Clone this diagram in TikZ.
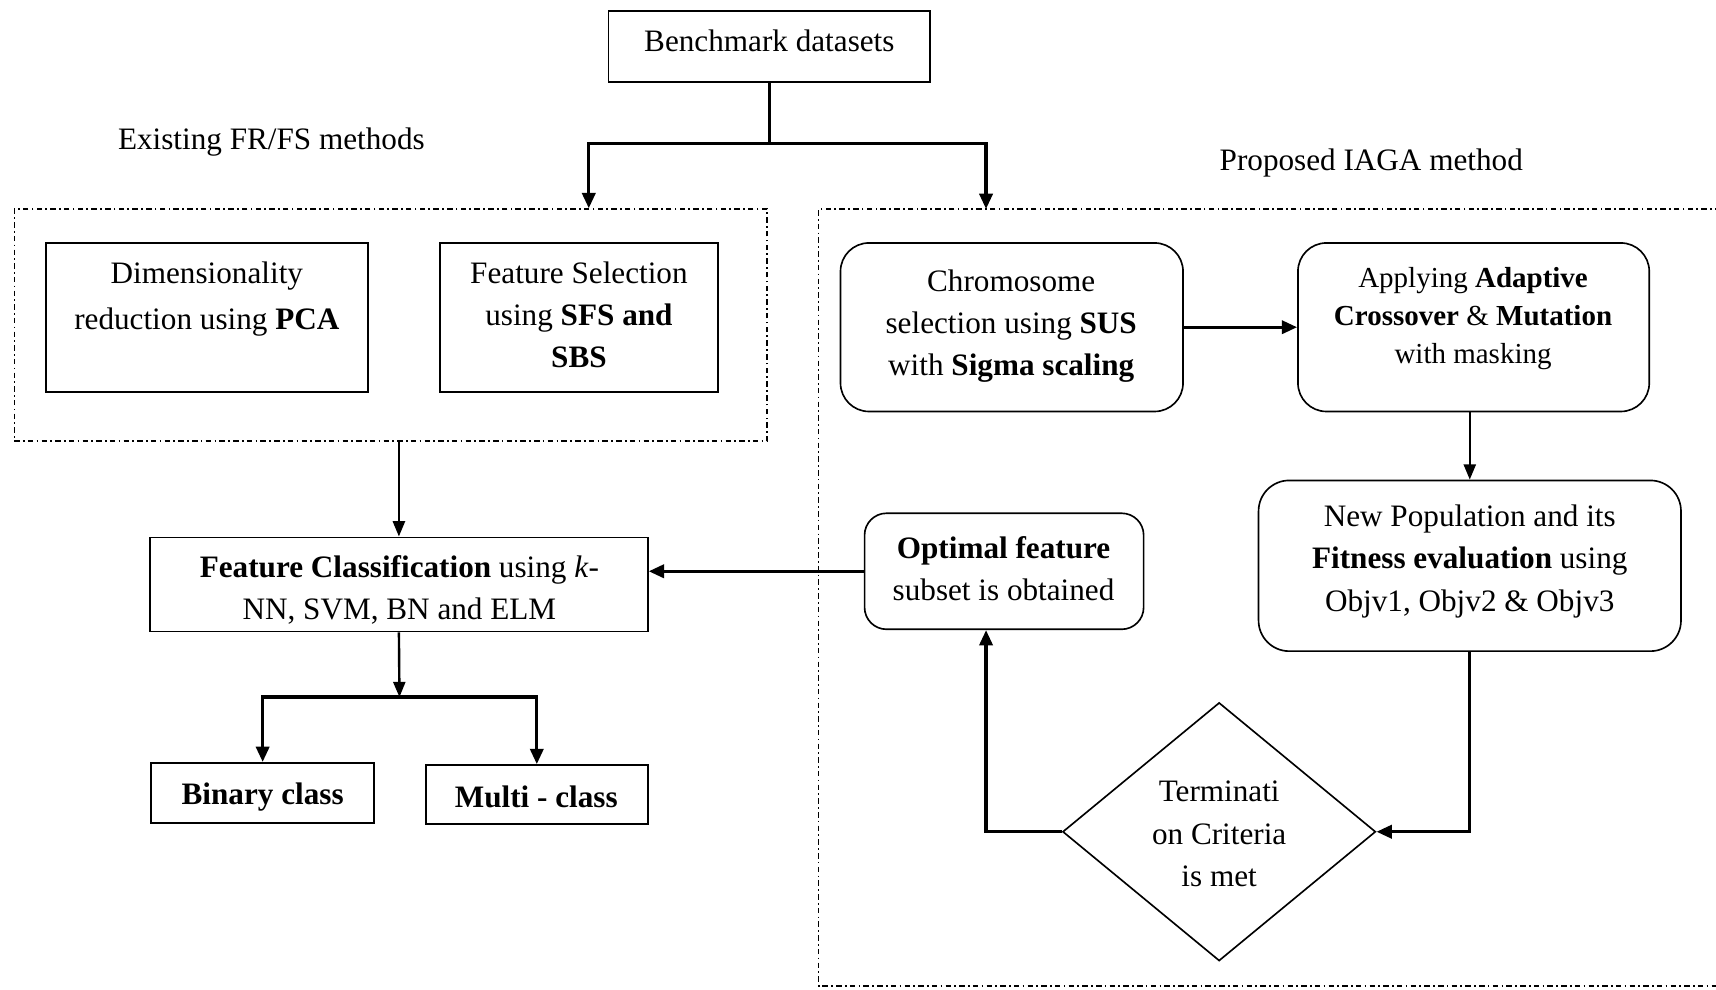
\documentclass[tikz,border=0pt]{standalone}
\usepackage{fontspec}
\setmainfont{Liberation Serif}
\usetikzlibrary{arrows.meta,shapes.geometric}
\tikzset{
  box/.style={draw, line width=1.5pt, inner sep=0pt, rectangle},
  rbox/.style={box, rounded corners=#1},
  rbox/.default=26pt,
  txt/.style={align=center, inner sep=0pt, font=\fontsize{28.5}{38.5}\selectfont},
  grp/.style={line width=1.3pt, dash pattern=on 5pt off 3pt on 1.5pt off 3pt},
  conn/.style={line width=3pt},
  arr/.style={line width=3pt, -{Triangle[length=14pt,width=12pt]}},
  arrthin/.style={line width=2.2pt, -{Triangle[length=14pt,width=11pt]}},
}
\begin{document}
\begin{tikzpicture}[x=1pt,y=-1pt]
\useasboundingbox (0,0) rectangle (1568,904);
% groups
\node[grp, draw, inner sep=0pt, minimum width=688pt, minimum height=212pt] (leftgrp) at (357,297) {};
\coordinate (rgtop) at (748,191);
\coordinate (rgbot) at (748,901);
\draw[grp] (1572,191) -- (rgtop) -- (rgbot) -- (1572,901);
% labels
\node[txt] (existing) at (248,130) {Existing FR/FS methods};
\node[txt] (proposed) at (1253,149) {Proposed IAGA method};
% boxes
\node[box, minimum width=294pt, minimum height=65pt] (bench) at (703,42.5) {};
\node[txt] (benchT) at (703,37) {Benchmark datasets};
\node[box, minimum width=294pt, minimum height=136pt] (dim) at (189,290) {};
\node[txt, font=\fontsize{28.5}{42}\selectfont] (dimT) at (189,273) {Dimensionality\\reduction using \textbf{PCA}};
\node[box, minimum width=254pt, minimum height=136pt] (fs) at (529,290) {};
\node[txt] (fsT) at (529,288) {Feature Selection\\using \textbf{SFS and}\\\textbf{SBS}};
\node[box, minimum width=455pt, minimum height=86pt] (fc) at (364.5,534) {};
\node[txt] (fcT) at (365,539) {\textbf{Feature Classification} using \textit{k}-\\NN, SVM, BN and ELM};
\node[box, minimum width=204pt, minimum height=55pt] (bin) at (240,724.5) {};
\node[txt] (binT) at (240,728) {\textbf{Binary class}};
\node[box, minimum width=203pt, minimum height=54pt] (mul) at (490.5,726) {};
\node[txt] (mulT) at (490,728) {\textbf{Multi - class}};
\node[rbox, minimum width=313pt, minimum height=154pt] (chr) at (924.5,299) {};
\node[txt] (chrT) at (924,298) {Chromosome\\selection using \textbf{SUS}\\with \textbf{Sigma scaling}};
\node[rbox, minimum width=321pt, minimum height=154pt] (app) at (1346.5,299) {};
\node[txt, font=\fontsize{26.5}{34.5}\selectfont] (appT) at (1346,291) {Applying \textbf{Adaptive}\\\textbf{Crossover} \& \textbf{Mutation}\\with masking};
\node[rbox=28pt, minimum width=386pt, minimum height=156pt] (np) at (1343,517) {};
\node[txt] (npT) at (1343,513) {New Population and its\\\textbf{Fitness evaluation} using\\Objv1, Objv2 \& Objv3};
\node[rbox=20pt, minimum width=255pt, minimum height=106pt] (opt) at (917.5,522) {};
\node[txt] (optT) at (917,520) {\textbf{Optimal feature}\\subset is obtained};
\node[draw, diamond, line width=1.5pt, inner sep=0pt, minimum width=286pt, minimum height=236pt] (term) at (1114,760) {};
\node[txt] (termT) at (1114,762) {Terminati\\on Criteria\\is met};
% connectors
\coordinate (j1) at (703,131);
\coordinate (lt) at (538,131);
\coordinate (rt) at (901,131);
\draw[conn] (bench.south) -- (j1);
\draw[arr] (j1) -- (lt) -- (lt |- leftgrp.north);
\draw[arr] (j1) -- (rt) -- (rt |- rgtop);
\draw[arrthin] (leftgrp.south -| fc.north) -- (fc.north);
\coordinate (j2) at (365,637);
\draw[arrthin] (fc.south) -- (j2);
\draw[arr] (j2) -| (bin.north);
\draw[arr] (j2) -| (mul.north);
\draw[arr] (chr.east) -- (app.west);
\draw[arrthin] (app.south -| np.north) -- (np.north);
\draw[arr] (np.south) |- (term.east);
\coordinate (j3) at (901,760);
\draw[arr] (term.west) -- (j3) -- (j3 |- opt.south);
\draw[arr] (opt.west) -- (opt.west -| fc.east);
\end{tikzpicture}
\end{document}
